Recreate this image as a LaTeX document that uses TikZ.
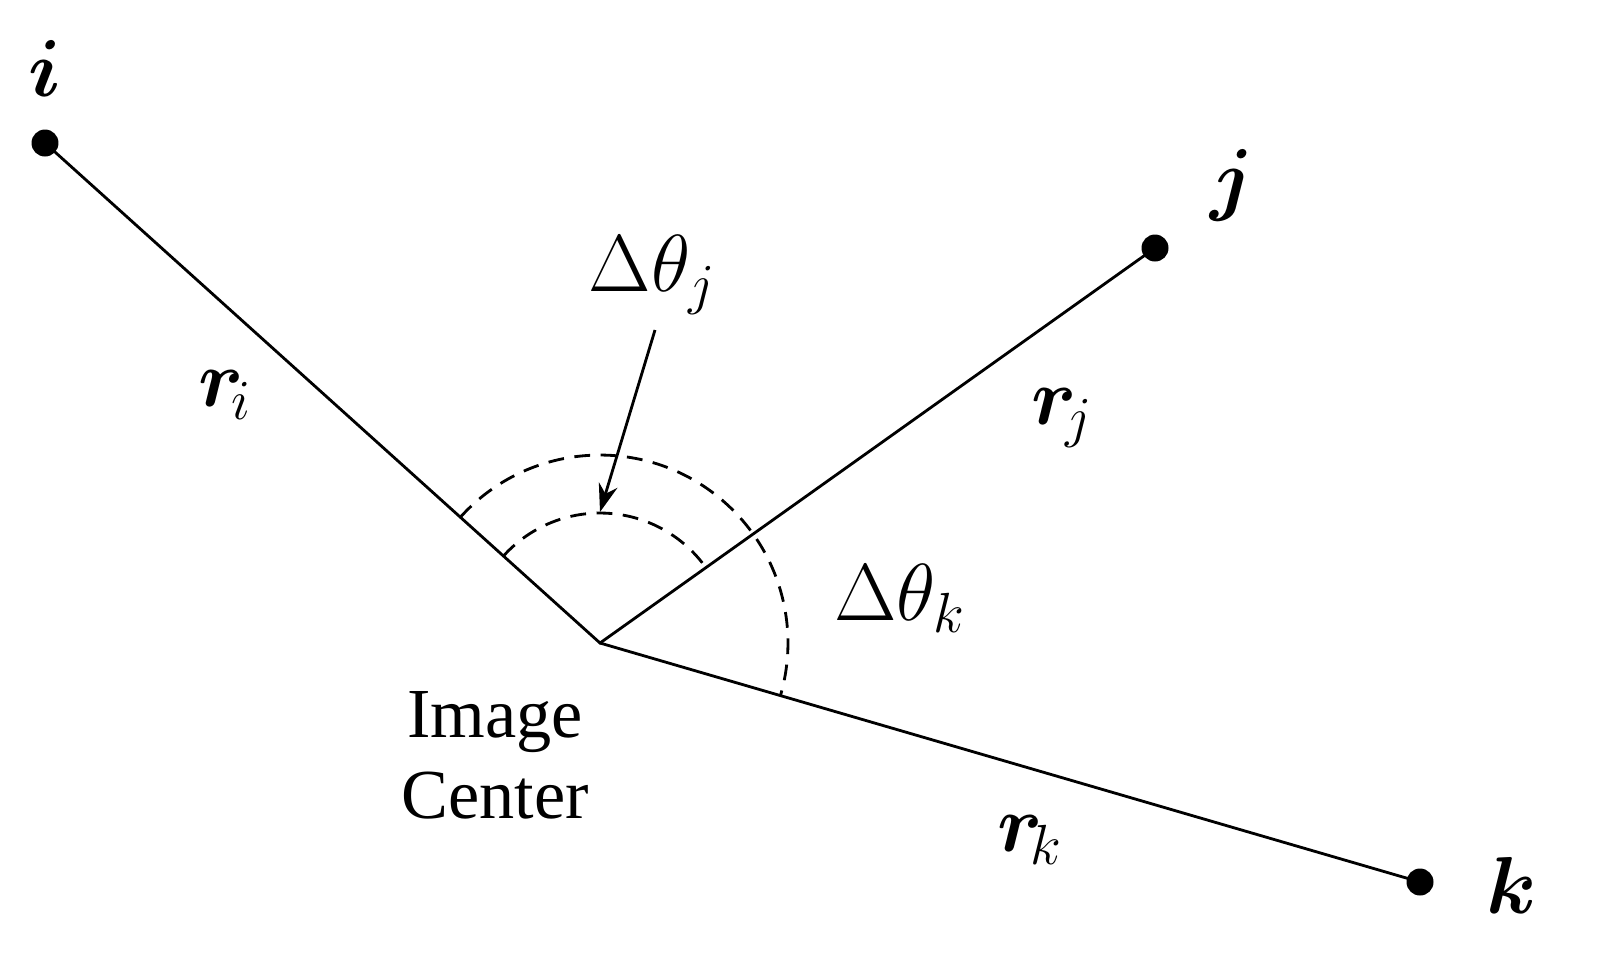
\RequirePackage{fix-cm}
\documentclass[tikz,border=0pt]{standalone}
\usetikzlibrary{arrows.meta}
\usepackage{amsmath,bm}
\usepackage{fontspec}
\newfontfamily\tnr{Liberation Serif}
\begin{document}
\begin{tikzpicture}[x=0.02cm,y=-0.02cm,line width=1.6pt,
 dot/.style={circle,fill=black,inner sep=0,minimum size=0.54cm},
 lab/.style={font=\fontsize{46}{50}\selectfont},
 arcst/.style={dashed,dash pattern=on 9pt off 6pt}]
\useasboundingbox (0,0) rectangle (1603,968);
\coordinate (c) at (600,643);
\node[dot] (i) at (45,143) {};
\node[dot] (j) at (1155,248) {};
\node[dot] (k) at (1420,882) {};
\draw (i.center) -- (c) -- (j.center);
\draw (c) -- (k.center);
\begin{scope}[shift={(c)},x=1cm,y=1cm]
\draw[arcst] (138:3.76) arc[start angle=138,end angle=-16.2,radius=3.76];
\draw[arcst] (138:2.6) arc[start angle=138,end angle=35.4,radius=2.6];
\end{scope}
\coordinate (at) at (600,512);
\node[lab] (dj) at (652,275) {$\Delta\theta_j$};
\draw[-{Stealth[length=16pt,width=11pt]}] (655,330) -- (at);
\node[lab] (dk) at (900,598) {$\Delta\theta_k$};
\node[lab] (ri) at (225,395) {$\bm{r}_{\!i}$};
\node[lab] (rj) at (1062,418) {$\bm{r}_{\!j}$};
\node[lab] (rk) at (1030,840) {$\bm{r}_{\!k}$};
\node[lab] (li) at (45,68) {$\bm{i}$};
\node[lab] (lj) at (1232,185) {$\bm{j}$};
\node[lab] (lk) at (1512,885) {$\bm{k}$};
\node[font=\tnr\fontsize{40}{46}\selectfont,align=center] (ic) at (495,755) {Image\\Center};
\end{tikzpicture}
\end{document}
